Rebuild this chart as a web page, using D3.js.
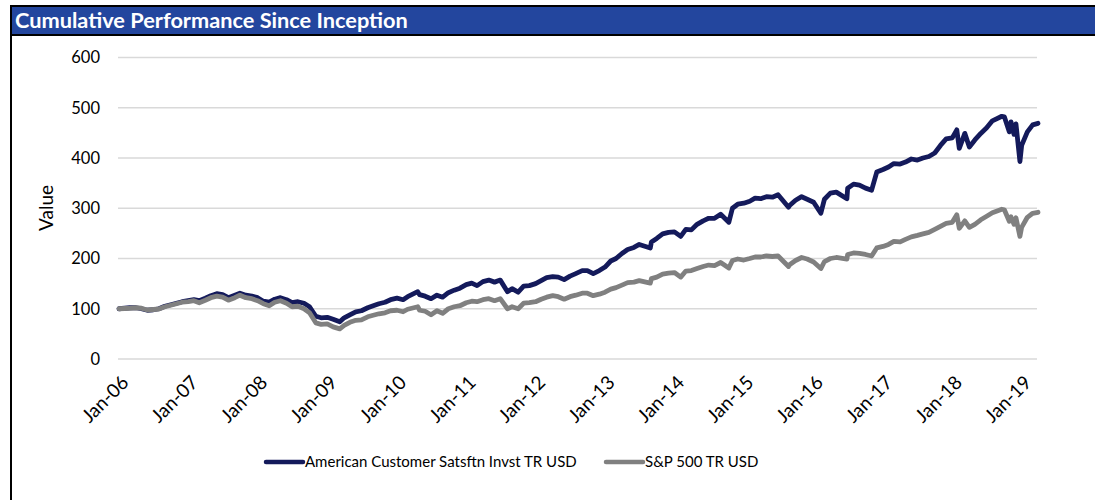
<!DOCTYPE html>
<html>
<head>
<meta charset="utf-8">
<script src="https://cdn.jsdelivr.net/npm/d3@7/dist/d3.min.js"></script>
<style>
  html, body { margin: 0; padding: 0; background: #fff; }
  svg { display: block; }
  text { font-family: Lato, "Open Sans", sans-serif; }
</style>
</head>
<body>
<svg id="chart" width="1095" height="500"></svg>
<script>
const title = "Cumulative Performance Since Inception";
const seriesNames = ["American Customer Satsftn Invst TR USD", "S&P 500 TR USD"];
const yTicks = [0, 100, 200, 300, 400, 500, 600];
const xTickLabels = ["Jan-06","Jan-07","Jan-08","Jan-09","Jan-10","Jan-11","Jan-12","Jan-13","Jan-14","Jan-15","Jan-16","Jan-17","Jan-18","Jan-19"];

const dates = [
"2006-01-03","2006-02-01","2006-03-01","2006-04-03","2006-05-01","2006-06-01","2006-07-03","2006-08-01","2006-09-01","2006-10-02","2006-11-01","2006-12-01",
"2007-01-02","2007-02-01","2007-03-01","2007-04-02","2007-05-01","2007-06-01","2007-07-02","2007-08-01","2007-09-04","2007-10-01","2007-11-01","2007-12-03",
"2008-01-02","2008-02-01","2008-03-03","2008-04-01","2008-05-01","2008-06-02","2008-07-01","2008-08-01","2008-09-02","2008-10-01","2008-11-03","2008-12-01",
"2009-01-02","2009-02-02","2009-03-09","2009-04-01","2009-05-01","2009-06-01","2009-07-01","2009-08-03","2009-09-01","2009-10-01","2009-11-02","2009-12-01",
"2010-01-04","2010-02-05","2010-03-01","2010-04-23","2010-05-03","2010-06-01","2010-07-02","2010-08-02","2010-09-01","2010-10-01","2010-11-01","2010-12-01",
"2011-01-03","2011-02-01","2011-03-01","2011-04-01","2011-05-02","2011-06-01","2011-07-01","2011-08-08","2011-09-01","2011-10-03","2011-11-01","2011-12-01",
"2012-01-03","2012-02-01","2012-03-01","2012-04-02","2012-05-01","2012-06-01","2012-07-02","2012-08-01","2012-09-04","2012-10-01","2012-11-01","2012-12-03",
"2013-01-02","2013-02-01","2013-03-01","2013-04-01","2013-05-01","2013-06-03","2013-07-01","2013-08-28","2013-09-03","2013-10-01","2013-11-01","2013-12-02",
"2014-01-02","2014-02-04","2014-03-03","2014-04-01","2014-05-01","2014-06-02","2014-07-01","2014-08-01","2014-09-02","2014-10-15","2014-11-03","2014-12-01",
"2015-01-02","2015-02-02","2015-03-02","2015-04-01","2015-05-01","2015-06-01","2015-07-01","2015-08-25","2015-09-01","2015-10-01","2015-11-02","2015-12-01",
"2016-01-04","2016-02-11","2016-03-01","2016-04-01","2016-05-02","2016-06-27","2016-07-01","2016-08-01","2016-09-01","2016-10-03","2016-11-04","2016-12-01",
"2017-01-03","2017-02-01","2017-03-01","2017-04-03","2017-05-01","2017-06-01","2017-07-03","2017-08-01","2017-09-01","2017-10-02","2017-11-01","2017-12-01",
"2018-01-02","2018-01-26","2018-02-08","2018-03-09","2018-04-02","2018-05-01","2018-06-01","2018-07-02","2018-08-01","2018-09-20","2018-10-03","2018-10-29","2018-11-07","2018-11-23","2018-12-03","2018-12-24",
"2019-01-02","2019-02-01","2019-03-01","2019-03-29"
];

const acsiValues = [
100,101,102,102,100,97,98,100,105,108,111,114,
116,118,116,121,126,130,128,122,127,131,127,125,
122,115,113,119,122,118,112,114,111,104,85,82,
83,79,74,82,88,94,96,102,106,110,113,118,
121,118,124,134,128,125,120,127,123,132,137,141,
148,151,146,154,157,153,157,134,140,133,145,146,
150,156,162,164,163,158,165,170,176,176,170,176,
183,195,200,210,218,222,228,221,233,240,249,252,
253,244,258,257,268,275,280,280,288,272,300,308,
310,314,320,319,323,322,327,302,306,316,323,318,
312,290,318,330,332,319,340,348,346,340,336,372,
377,382,389,388,392,398,396,400,403,410,425,438,
440,456,419,449,422,436,449,460,474,483,482,452,472,447,468,393,
425,452,466,469
];

const spValues = [
100,100.5,101,102,101,97.5,98.5,99.5,104,107,110,113,
114,116,112,117,122,125,123,117,122,127,122,120,
116,110,106,113,116,111,104,105,100,92,72,69,
70,64,60,67,73,77,78,84,87,90,92,96,
97,94,99,104,97,95,88,96,91,100,104,106,
112,115,114,118,120,116,120,100,104,100,111,112,
114,119,123,126,124,119,124,127,131,131,126,129,
133,139,142,147,152,153,156,151,160,163,169,171,
172,163,175,176,180,184,187,186,192,181,196,199,
197,200,203,203,205,204,205,184,188,196,202,199,
193,180,194,200,202,199,208,211,210,208,205,221,
224,228,234,233,238,243,246,249,252,258,264,270,
272,287,260,275,262,268,277,284,291,298,297,274,283,268,281,244,
262,282,290,292
];

const parse = d3.timeParse("%Y-%m-%d");
const data = dates.map((d, i) => ({ date: parse(d), a: acsiValues[i], s: spValues[i] }));

const svg = d3.select("#chart");

// fit a text element's font size so that its rendered width equals target
function fitWidth(sel, target) {
  sel.each(function() {
    const fs = parseFloat(d3.select(this).attr("font-size"));
    const w = this.getComputedTextLength();
    if (w > 0) d3.select(this).attr("font-size", (fs * target / w).toFixed(2));
  });
}

// Frame
svg.append("rect").attr("x", 0).attr("y", 0).attr("width", 1095).attr("height", 500).attr("fill", "#fff");
svg.append("rect").attr("x", 11).attr("y", 6).attr("width", 1090).attr("height", 29)
  .attr("fill", "#23469e").attr("stroke", "#000").attr("stroke-width", 2);
svg.append("line").attr("x1", 11).attr("x2", 11).attr("y1", 6).attr("y2", 500)
  .attr("stroke", "#000").attr("stroke-width", 2);
const tt = svg.append("text").attr("x", 15).attr("y", 28).text(title)
  .attr("fill", "#fff").attr("font-weight", "bold").attr("font-size", 19);
fitWidth(tt, 393);

// Scales
const x = d3.scaleTime()
  .domain([parse("2006-01-03"), parse("2019-03-29")])
  .range([119, 1038]);
const y = d3.scaleLinear().domain([0, 600]).range([359, 57.5]);

// Gridlines
svg.append("g").selectAll("line").data(yTicks).join("line")
  .attr("x1", 118).attr("x2", 1037)
  .attr("y1", d => y(d)).attr("y2", d => y(d))
  .attr("stroke", "#d9d9d9").attr("stroke-width", 1.5);

// Y axis
const yAxis = d3.axisLeft(y).tickValues(yTicks).tickSize(0).tickPadding(0);
const gy = svg.append("g").attr("transform", "translate(100,0)").call(yAxis);
gy.select(".domain").remove();
gy.selectAll("text").attr("font-size", 16.5).attr("fill", "#000")
  .attr("font-family", "Lato, sans-serif");

const vt = svg.append("text")
  .attr("transform", "translate(53,208) rotate(-90)")
  .attr("text-anchor", "middle")
  .attr("font-size", 19).attr("fill", "#000").text("Value");
fitWidth(vt, 46);

// X axis
const xTickDates = xTickLabels.map(l => d3.timeParse("%b-%y")(l));
const xAxis = d3.axisBottom(x).tickValues(xTickDates).tickSize(0).tickPadding(0)
  .tickFormat((d, i) => xTickLabels[i]);
const gx = svg.append("g").attr("transform", "translate(0,379)").call(xAxis);
gx.select(".domain").remove();
gx.selectAll("text")
  .attr("font-size", 19).attr("fill", "#000").attr("font-family", "Lato, sans-serif")
  .attr("text-anchor", "end")
  .attr("dy", "0.35em").attr("y", 0)
  .attr("transform", "translate(6,0) rotate(-45)");

// Lines
const lineA = d3.line().x(d => x(d.date)).y(d => y(d.a));
const lineS = d3.line().x(d => x(d.date)).y(d => y(d.s));
svg.append("path").datum(data).attr("d", lineA)
  .attr("fill", "none").attr("stroke", "#141a5b").attr("stroke-width", 4.8)
  .attr("stroke-linejoin", "round").attr("stroke-linecap", "round");
svg.append("path").datum(data).attr("d", lineS)
  .attr("fill", "none").attr("stroke", "#808080").attr("stroke-width", 4.8)
  .attr("stroke-linejoin", "round").attr("stroke-linecap", "round");

// Legend
const legend = [
  { name: seriesNames[0], color: "#141a5b", x: 266 },
  { name: seriesNames[1], color: "#808080", x: 606 }
];
const lg = svg.append("g").selectAll("g").data(legend).join("g")
  .attr("transform", d => `translate(${d.x},462)`);
lg.append("line").attr("x1", 0).attr("x2", 37).attr("y1", 0).attr("y2", 0)
  .attr("stroke", d => d.color).attr("stroke-width", 4.5).attr("stroke-linecap", "round");
lg.append("text").attr("x", 39).attr("dy", "0.35em").attr("font-size", 15)
  .attr("fill", "#000").text(d => d.name);
</script>
</body>
</html>
